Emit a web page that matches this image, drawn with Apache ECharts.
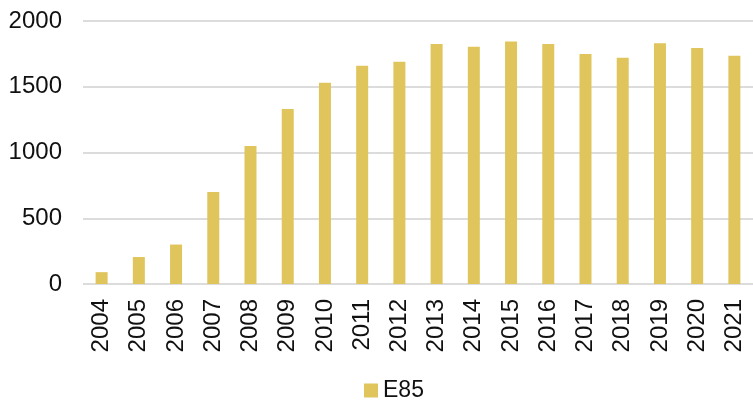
<!DOCTYPE html>
<html>
<head>
<meta charset="utf-8">
<script src="https://cdn.jsdelivr.net/npm/echarts@6/dist/echarts.min.js"></script>
<style>
  html, body { margin: 0; padding: 0; background: #fff; }
  #chart { width: 753px; height: 401px; }
</style>
</head>
<body>
<div id="chart"></div>
<script>
var years = ['2004', '2005', '2006', '2007', '2008', '2009', '2010', '2011', '2012',
  '2013', '2014', '2015', '2016', '2017', '2018', '2019', '2020', '2021'];
var e85 = [90, 205, 300, 700, 1050, 1330, 1530, 1660, 1690,
  1825, 1805, 1845, 1825, 1750, 1720, 1830, 1795, 1735];
var yTicks = [0, 500, 1000, 1500, 2000];

var chart = echarts.init(document.getElementById('chart'));
var font = 'Liberation Sans, Arial, sans-serif';

chart.setOption({
  animation: false,
  grid: { left: 83, right: 0, top: 21, bottom: 117 },
  legend: {
    top: 379,
    left: 364,
    padding: 0,
    itemWidth: 14,
    itemHeight: 14,
    icon: 'rect',
    itemGap: 6,
    textStyle: { fontFamily: font, fontSize: 23, color: '#111' },
    data: ['E85']
  },
  xAxis: {
    type: 'category',
    data: years,
    axisLine: { show: false },
    axisTick: { show: false },
    axisLabel: {
      rotate: 90,
      interval: 0,
      margin: 15,
      fontFamily: font,
      fontSize: 24,
      color: '#111'
    }
  },
  yAxis: {
    type: 'value',
    min: yTicks[0],
    max: yTicks[yTicks.length - 1],
    interval: 500,
    axisLine: { show: false },
    axisTick: { show: false },
    splitLine: { lineStyle: { color: '#dcdcdc', width: 2 } },
    axisLabel: {
      margin: 21,
      fontFamily: font,
      fontSize: 24,
      color: '#111',
      formatter: function (v) { return String(v); }
    }
  },
  series: [{
    name: 'E85',
    type: 'bar',
    data: e85,
    barWidth: 12,
    itemStyle: { color: '#dfc55c' }
  }]
});
</script>
</body>
</html>
